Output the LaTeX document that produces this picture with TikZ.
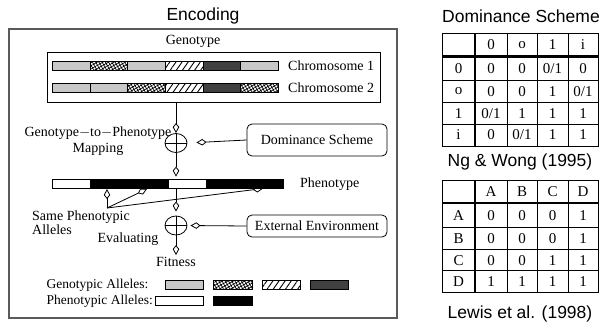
\documentclass[tikz,border=0pt]{standalone}
\usepackage{fontspec}
\setmainfont{Liberation Serif}
\newfontfamily\hfont{Liberation Sans}
\usetikzlibrary{arrows.meta,patterns,patterns.meta,shapes.geometric}
\definecolor{lgray}{RGB}{200,200,200}
\definecolor{dgray}{RGB}{64,64,64}
\definecolor{frame}{RGB}{90,90,90}
\begin{document}
\begin{tikzpicture}[x=1pt,y=-1pt,
  lbl/.style={font=\fontsize{14}{16}\selectfont, inner sep=0pt},
  leg/.style={font=\fontsize{13.5}{16}\selectfont, inner sep=0pt},
  head/.style={font=\hfont\fontsize{17.5}{20}\selectfont, inner sep=0pt},
  cell/.style={font=\fontsize{15}{17}\selectfont, inner sep=0pt},
  allele/.style={draw=black, line width=0.7pt, minimum height=9pt, inner sep=0pt, anchor=west},
  lg/.style={fill=lgray},
  dg/.style={fill=dgray},
  wh/.style={fill=white},
  bk/.style={fill=black},
  cross/.style={preaction={fill=white}, pattern={Hatch[angle=30,distance=2.8pt,line width=0.7pt]}},
  hatch/.style={preaction={fill=white}, pattern={Lines[angle=55,distance=5pt,line width=0.9pt]}},
  op/.style={draw, ellipse, minimum width=22pt, minimum height=19pt, inner sep=0pt, line width=0.8pt},
  arr/.style={line width=0.8pt, -{Kite[open, length=10pt, width=6.5pt, inset=4pt, line width=0.8pt]}},
  rbox/.style={draw, rounded corners=5pt, line width=0.8pt, font=\fontsize{14}{16}\selectfont, minimum width=140pt, inner sep=0pt},
  thin/.style={line width=0.8pt},
  thick/.style={line width=2.6pt},
]
\useasboundingbox (0,0) rectangle (606,322);

% ---------- Encoding ----------
\node[head] (enc) at (203,16) {Encoding};
\draw[line width=1.5pt, draw=frame] (9,29) rectangle (397,318);
\node[lbl] (gt) at (193,41) {Genotype};
\node[draw, line width=1pt, minimum width=333pt, minimum height=50pt, inner sep=0pt] (geno) at (213.5,77) {};

% chromosomes
\foreach \f [count=\i] in {lg,cross,lg,hatch,dg,lg}
  \node[allele,\f,minimum width=37.67pt] (ca\i) at ({52+(\i-1)*37.67},66) {};
\foreach \f [count=\i] in {lg,lg,cross,hatch,dg,cross}
  \node[allele,\f,minimum width=37.67pt] (cb\i) at ({52+(\i-1)*37.67},88) {};
\node[lbl, anchor=west] (chr1) at (288,66) {Chromosome 1};
\node[lbl, anchor=west] (chr2) at (288,88) {Chromosome 2};

% mapping operator
\node[op] (c1) at (176,143) {};
\draw[line width=0.8pt] (c1.west) -- (c1.east);
\draw[arr] (geno.south -| c1) -- (c1.north);
\draw[line width=0.8pt] (c1.north) -- (c1.south);
\node[lbl, align=center] (map) at (98,141) {Genotype$-$to$-$Phenotype\\Mapping};
\node[rbox, minimum height=32pt] (dom) at (317,140) {Dominance Scheme};
\draw[arr, shorten >=9pt] (dom.west) -- (c1.east);

% phenotype
\node[allele,wh,minimum width=38pt] (p1) at (52,183.5) {};
\node[allele,bk,minimum width=78pt] (p2) at (90,183.5) {};
\node[allele,wh,minimum width=38pt] (p3) at (168,183.5) {};
\node[allele,bk,minimum width=77pt] (p4) at (206,183.5) {};
\node[lbl, anchor=west] (pt) at (300,184) {Phenotype};
\draw[arr, shorten >=2pt] (c1.south) -- (c1 |- p3.north);

% same phenotypic alleles
\coordinate (sp) at (107,208);
\coordinate (t1) at (107,189);
\coordinate (t2) at (147,189);
\coordinate (t3) at (263,188.5);
\draw[arr] (sp) -- (t1);
\draw[arr] (sp) -- (t2);
\draw[arr] (sp) -- (t3);
\node[lbl, anchor=west] (same) at (32,217) {Same Phenotypic};
\node[lbl, anchor=west] (alle) at (32,230) {Alleles};

% evaluating
\node[op] (c2) at (176,225.5) {};
\draw[line width=0.8pt] (c2.west) -- (c2.east);
\draw[arr, shorten >=4pt] (c1 |- p3.south) -- (c2.north);
\draw[line width=0.8pt] (c2.north) -- (c2.south);
\node[lbl] (ev) at (128,239) {Evaluating};
\node[rbox, minimum height=22pt] (ext) at (317,226) {External Environment};
\draw[arr, shorten >=3pt] (ext.west) -- (c2.east);
\node[lbl] (fit) at (176,262) {Fitness};
\draw[arr, shorten >=2pt] (c2.south) -- (fit.north);

% legend
\node[leg, anchor=west] (ga) at (46.5,285) {Genotypic Alleles:};
\node[allele,lg,minimum width=38pt] (g1) at (165,285) {};
\node[allele,cross,minimum width=39pt] (g2) at (213,285) {};
\node[allele,hatch,minimum width=38pt] (g3) at (262,285) {};
\node[allele,dg,minimum width=38pt] (g4) at (310,285) {};
\node[leg, anchor=west] (pa) at (46.5,301) {Phenotypic Alleles:};
\node[allele,wh,minimum width=48pt] (h1) at (155,301) {};
\node[allele,bk,minimum width=39pt] (h2) at (213,301) {};

% ---------- Tables ----------
\def\colx{{458.5,491,522,552.5,583}}
\def\rowy{{11.75,35.5,58.5,80.25,101.75}}
\node[head] (dsh) at (521,16) {Dominance Scheme};
\node[head] (ngw) at (520,162) {Ng \& Wong (1995)};
\node[head] (lew) at (520,314) {Lewis et al. (1998)};

\begin{scope}[yshift=-33pt]
  \draw[thin] (442,0) rectangle (598,113);
  \foreach \xx in {507,537,568} \draw[thin] (\xx,0) -- (\xx,113);
  \foreach \yy in {47.5,69.5,91} \draw[thin] (442,\yy) -- (598,\yy);
  \draw[thick] (475,0) -- (475,113);
  \draw[thick] (442,23.5) -- (598,23.5);
  \foreach \rl [count=\r] in {{,0,o,1,i},{0,0,0,0/1,0},{o,0,0,1,0/1},{1,0/1,1,1,1},{i,0,0/1,1,1}}
    \foreach \cc [count=\c] in \rl
      \node[cell] (a-\r-\c) at ({\colx[\c-1]},{\rowy[\r-1]}) {\cc};
\end{scope}

\begin{scope}[yshift=-180pt]
  \draw[thin] (442,0) rectangle (598,112);
  \foreach \xx in {507,537,568} \draw[thin] (\xx,0) -- (\xx,112);
  \foreach \yy in {47,69,90} \draw[thin] (442,\yy) -- (598,\yy);
  \draw[thick] (475,0) -- (475,112);
  \draw[thick] (442,23) -- (598,23);
  \foreach \rl [count=\r] in {{,A,B,C,D},{A,0,0,0,1},{B,0,0,0,1},{C,0,0,1,1},{D,1,1,1,1}}
    \foreach \cc [count=\c] in \rl
      \node[cell] (b-\r-\c) at ({\colx[\c-1]},{\rowy[\r-1]}) {\cc};
\end{scope}
\end{tikzpicture}
\end{document}
